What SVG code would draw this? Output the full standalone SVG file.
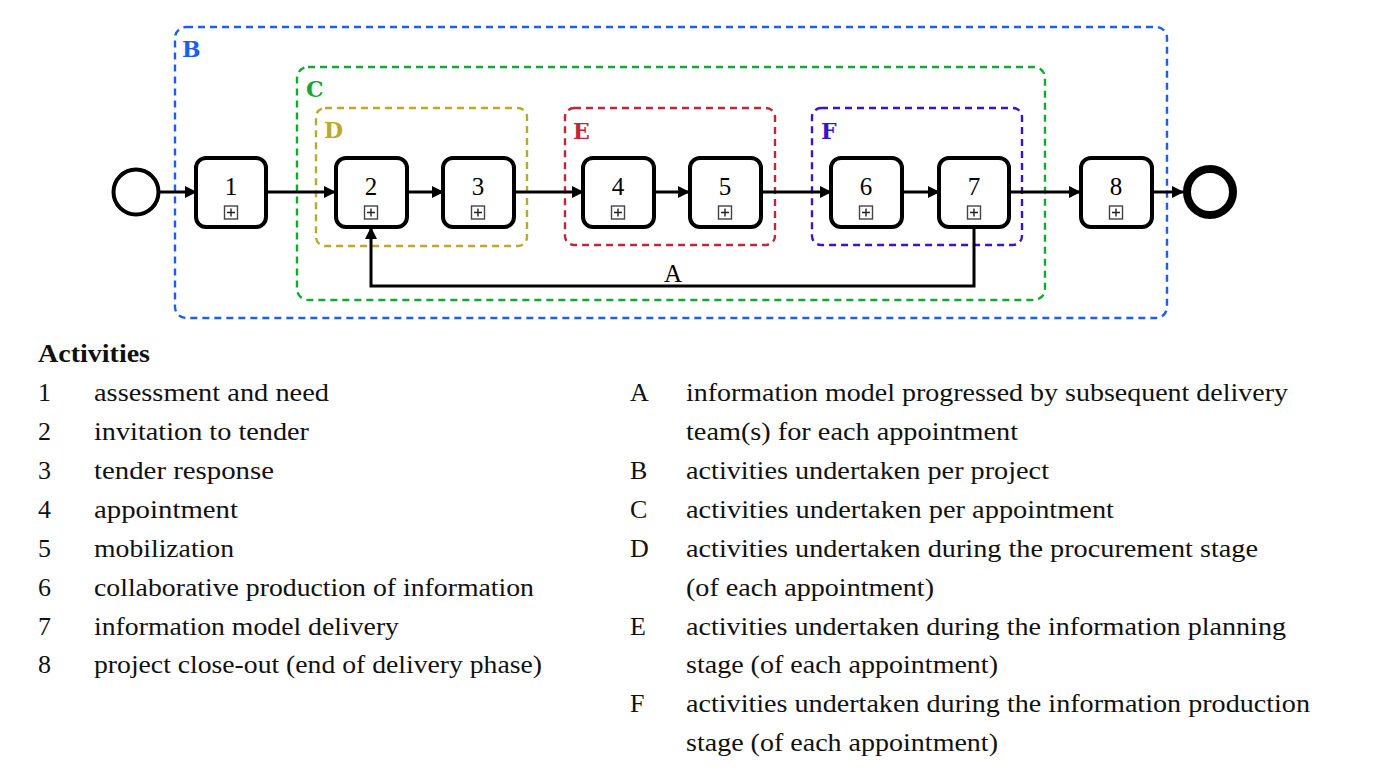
<svg xmlns="http://www.w3.org/2000/svg" width="1388" height="769" viewBox="0 0 1388 769">
<style>
.task{fill:#fff;stroke:#000;stroke-width:4}
.num{font-family:"Liberation Serif",serif;font-size:25px;text-anchor:middle;fill:#000}
.plus{fill:#fff;stroke:#444;stroke-width:1.4}
.pl{stroke:#222;stroke-width:1.4}
.edge{fill:none;stroke:#000;stroke-width:3;marker-end:url(#arr)}
.grp{fill:none;stroke-width:2.4;stroke-dasharray:7 5}
.gl{font-family:"DejaVu Serif","Liberation Serif",serif;font-weight:bold;font-size:22px}
.t{font-family:"Liberation Serif",serif;font-size:26px;fill:#111}
.h{font-family:"Liberation Serif",serif;font-size:25px;font-weight:bold;fill:#111}
</style>
<defs>
<marker id="arr" markerUnits="userSpaceOnUse" markerWidth="12" markerHeight="12" refX="11" refY="6" orient="auto">
<path d="M0,0 L12,6 L0,12 z" fill="#000"/>
</marker>
<g id="plusmark">
<rect class="plus" x="-6.5" y="-7" width="13" height="13"/>
<path class="pl" d="M-4,-0.5 H4 M0,-4.5 V3.5"/>
</g>
</defs>
<rect width="1388" height="769" fill="#fff"/>

<g id="groups">
<rect id="grpB" class="grp" x="175" y="27" width="992" height="291" rx="11" stroke="#1a5ff0"/>
<rect id="grpC" class="grp" x="297" y="67" width="748" height="233" rx="11" stroke="#14a830" stroke-width="2.8"/>
<rect id="grpD" class="grp" x="316" y="108" width="211" height="138" rx="9" stroke="#bba92c"/>
<rect id="grpE" class="grp" x="565" y="108" width="210" height="137" rx="9" stroke="#c0263a"/>
<rect id="grpF" class="grp" x="812" y="108" width="210" height="137" rx="9" stroke="#3e12c8"/>
<text class="gl" x="182" y="57" fill="#1a5ff0">B</text>
<text class="gl" x="306" y="97" fill="#14a830">C</text>
<text class="gl" x="324" y="138" fill="#bba92c">D</text>
<text class="gl" x="573" y="139" fill="#c0263a">E</text>
<text class="gl" x="821" y="139" fill="#3e12c8">F</text>
</g>

<g id="connectors">
<line class="edge" x1="160" y1="192" x2="196" y2="192"/>
<line class="edge" x1="266" y1="192" x2="335" y2="192"/>
<line class="edge" x1="407" y1="192" x2="443" y2="192"/>
<line class="edge" x1="514" y1="192" x2="583" y2="192"/>
<line class="edge" x1="654" y1="192" x2="689" y2="192"/>
<line class="edge" x1="761" y1="192" x2="831" y2="192"/>
<line class="edge" x1="902" y1="192" x2="939" y2="192"/>
<line class="edge" x1="1009" y1="192" x2="1080" y2="192"/>
<line class="edge" x1="1152" y1="192" x2="1183" y2="192"/>
<path class="edge" stroke-width="2.6" d="M974,227 V286 H371 V228"/>
<text class="num" x="673" y="282" font-size="23">A</text>
</g>

<g id="start"><circle cx="136" cy="192" r="22.5" fill="#fff" stroke="#000" stroke-width="4"/></g>
<g id="end"><circle cx="1210" cy="192" r="23" fill="#fff" stroke="#000" stroke-width="8"/></g>

<g id="n1"><rect class="task" x="196" y="158" width="70" height="69" rx="10"/><text class="num" x="231" y="195">1</text><use href="#plusmark" x="231" y="213"/></g>
<g id="n2"><rect class="task" x="336" y="158" width="71" height="69" rx="10"/><text class="num" x="371" y="195">2</text><use href="#plusmark" x="371" y="213"/></g>
<g id="n3"><rect class="task" x="443" y="158" width="71" height="69" rx="10"/><text class="num" x="478" y="195">3</text><use href="#plusmark" x="478" y="213"/></g>
<g id="n4"><rect class="task" x="583" y="158" width="71" height="69" rx="10"/><text class="num" x="618" y="195">4</text><use href="#plusmark" x="618" y="213"/></g>
<g id="n5"><rect class="task" x="690" y="158" width="71" height="69" rx="10"/><text class="num" x="725" y="195">5</text><use href="#plusmark" x="725" y="213"/></g>
<g id="n6"><rect class="task" x="831" y="158" width="71" height="69" rx="10"/><text class="num" x="866" y="195">6</text><use href="#plusmark" x="866" y="213"/></g>
<g id="n7"><rect class="task" x="939" y="158" width="70" height="69" rx="10"/><text class="num" x="974" y="195">7</text><use href="#plusmark" x="974" y="213"/></g>
<g id="n8"><rect class="task" x="1081" y="158" width="71" height="69" rx="10"/><text class="num" x="1116" y="195">8</text><use href="#plusmark" x="1116" y="213"/></g>

<g id="legend">
<text class="h" x="38" y="362" textLength="112" lengthAdjust="spacingAndGlyphs">Activities</text>
<text class="t" x="38" y="401">1</text><text class="t" x="94" y="401" textLength="235" lengthAdjust="spacingAndGlyphs">assessment and need</text>
<text class="t" x="38" y="440">2</text><text class="t" x="94" y="440" textLength="215" lengthAdjust="spacingAndGlyphs">invitation to tender</text>
<text class="t" x="38" y="479">3</text><text class="t" x="94" y="479" textLength="180" lengthAdjust="spacingAndGlyphs">tender response</text>
<text class="t" x="38" y="518">4</text><text class="t" x="94" y="518" textLength="144" lengthAdjust="spacingAndGlyphs">appointment</text>
<text class="t" x="38" y="557">5</text><text class="t" x="94" y="557" textLength="140" lengthAdjust="spacingAndGlyphs">mobilization</text>
<text class="t" x="38" y="596">6</text><text class="t" x="94" y="596" textLength="440" lengthAdjust="spacingAndGlyphs">collaborative production of information</text>
<text class="t" x="38" y="635">7</text><text class="t" x="94" y="635" textLength="305" lengthAdjust="spacingAndGlyphs">information model delivery</text>
<text class="t" x="38" y="673">8</text><text class="t" x="94" y="673" textLength="448" lengthAdjust="spacingAndGlyphs">project close-out (end of delivery phase)</text>

<text class="t" x="630" y="401">A</text><text class="t" x="686" y="401" textLength="602" lengthAdjust="spacingAndGlyphs">information model progressed by subsequent delivery</text>
<text class="t" x="686" y="440" textLength="332" lengthAdjust="spacingAndGlyphs">team(s) for each appointment</text>
<text class="t" x="630" y="479">B</text><text class="t" x="686" y="479" textLength="363" lengthAdjust="spacingAndGlyphs">activities undertaken per project</text>
<text class="t" x="630" y="518">C</text><text class="t" x="686" y="518" textLength="428" lengthAdjust="spacingAndGlyphs">activities undertaken per appointment</text>
<text class="t" x="630" y="557">D</text><text class="t" x="686" y="557" textLength="572" lengthAdjust="spacingAndGlyphs">activities undertaken during the procurement stage</text>
<text class="t" x="686" y="596" textLength="248" lengthAdjust="spacingAndGlyphs">(of each appointment)</text>
<text class="t" x="630" y="635">E</text><text class="t" x="686" y="635" textLength="600" lengthAdjust="spacingAndGlyphs">activities undertaken during the information planning</text>
<text class="t" x="686" y="673" textLength="312" lengthAdjust="spacingAndGlyphs">stage (of each appointment)</text>
<text class="t" x="630" y="712">F</text><text class="t" x="686" y="712" textLength="624" lengthAdjust="spacingAndGlyphs">activities undertaken during the information production</text>
<text class="t" x="686" y="751" textLength="312" lengthAdjust="spacingAndGlyphs">stage (of each appointment)</text>
</g>
</svg>
